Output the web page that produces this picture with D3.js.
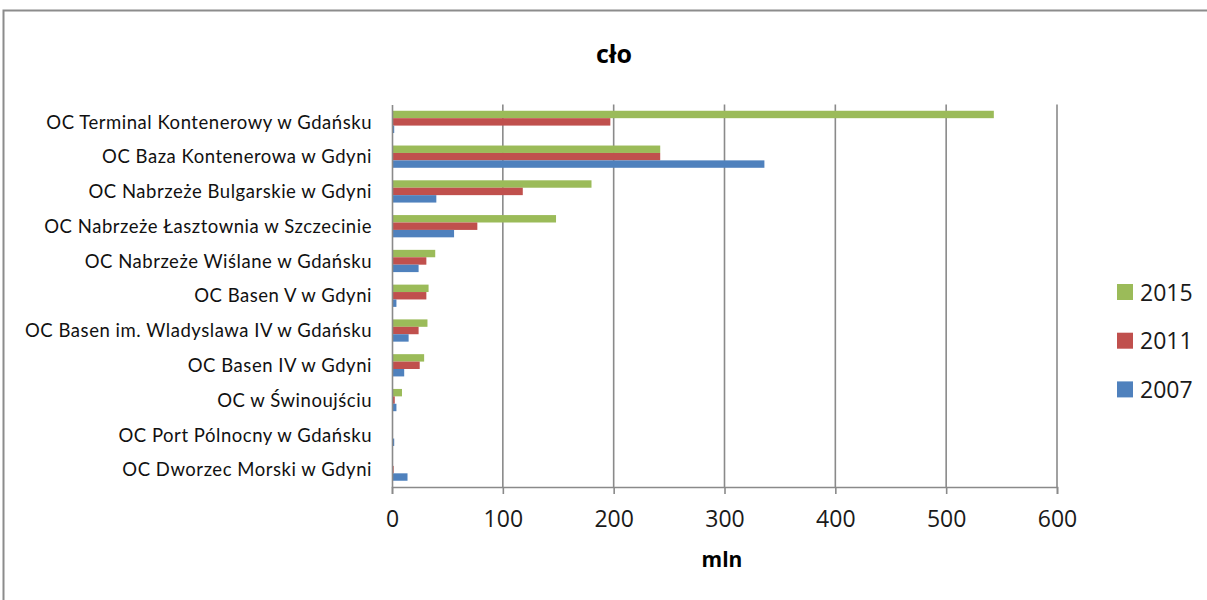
<!DOCTYPE html>
<html><head><meta charset="utf-8">
<script src="https://cdn.jsdelivr.net/npm/d3@7"></script>
<style>body{margin:0;background:#fff}svg{display:block}</style>
</head><body>
<svg id="c" width="1207" height="600"></svg>
<script>
const categories = [
  "OC Terminal Kontenerowy w Gdańsku",
  "OC Baza Kontenerowa w Gdyni",
  "OC Nabrzeże Bulgarskie w Gdyni",
  "OC Nabrzeże Łasztownia w Szczecinie",
  "OC Nabrzeże Wiślane w Gdańsku",
  "OC Basen V w Gdyni",
  "OC Basen im. Wladyslawa IV w Gdańsku",
  "OC Basen IV w Gdyni",
  "OC w Świnoujściu",
  "OC Port Pólnocny w Gdańsku",
  "OC Dworzec Morski w Gdyni"
];
const seriesNames = ["2015", "2011", "2007"];
const v2015 = [543, 242, 180, 148, 39, 33, 32, 29, 9, 0, 0];
const v2011 = [197, 242, 118, 77, 31, 31, 24, 25, 2.5, 0, 1.5];
const v2007 = [2, 336, 40, 56, 24, 4, 15, 11, 4, 2, 14];
const xTicks = [0, 100, 200, 300, 400, 500, 600];
const colors = ["#9BBB59", "#C0504D", "#4F81BD"];
const title = "cło";
const xTitle = "mln";

const seriesVals = [v2015, v2011, v2007];
const svg = d3.select("#c");
const FONT = "'Open Sans', sans-serif";
const LFONT = "Lato, 'Open Sans', sans-serif";

// outer border
svg.append("rect").attr("x", 3.5).attr("y", 10.5).attr("width", 1300).attr("height", 700)
  .attr("fill", "none").attr("stroke", "#8c8c8c").attr("stroke-width", 2);

const x = d3.scaleLinear().domain([0, 600]).range([392, 1057]);
const y = d3.scaleBand().domain(categories).range([104.5, 487]).paddingInner(0.36).paddingOuter(0.18);
const sub = d3.scaleBand().domain(seriesNames).range([0, y.bandwidth()]);

// gridlines
svg.append("g").selectAll("line").data(xTicks.slice(1)).join("line")
  .attr("x1", d => x(d)).attr("x2", d => x(d)).attr("y1", 104.5).attr("y2", 487)
  .attr("stroke", "#8a8a8a").attr("stroke-width", 1.6);

// bars
seriesNames.forEach((s, si) => {
  svg.append("g").selectAll("rect").data(categories).join("rect")
    .attr("x", x(0))
    .attr("y", c => y(c) + sub(s))
    .attr("width", (c, i) => Math.max(0, x(seriesVals[si][i]) - x(0)))
    .attr("height", sub.bandwidth())
    .attr("fill", colors[si]);
});

// x axis
const xAxis = d3.axisBottom(x).tickValues(xTicks).tickSize(7).tickPadding(10).tickFormat(d3.format("d"));
const gx = svg.append("g").attr("transform", "translate(0,487)").call(xAxis);
gx.select(".domain").attr("stroke", "#8a8a8a").attr("stroke-width", 1.6);
gx.selectAll(".tick line").attr("stroke", "#8a8a8a").attr("stroke-width", 1.6);
gx.selectAll(".tick text").attr("font-family", FONT).attr("font-size", 23).attr("fill", "#1a1a1a")
  .attr("dy", null).attr("y", 40);

// y axis
const yAxis = d3.axisLeft(y).tickSize(0).tickPadding(20);
const gy = svg.append("g").attr("transform", "translate(392,0)").call(yAxis);
gy.select(".domain").attr("stroke", "#8a8a8a").attr("stroke-width", 1.6);
gy.selectAll(".tick text").attr("font-family", LFONT).attr("fill", "#111").attr("font-size", 18.5)
  .attr("x", -20).attr("dy", "0.36em");
// letter spacing so the widest label matches the reference width
let maxW = 0, maxN = 1;
gy.selectAll(".tick text").each(function(){
  const w = this.getComputedTextLength();
  if (w > maxW) { maxW = w; maxN = this.textContent.length; }
});
const ls = Math.max(0, (347 - maxW) / maxN);
gy.selectAll(".tick text").attr("letter-spacing", ls);

// title
svg.append("text").attr("x", 614).attr("y", 63).attr("text-anchor", "middle")
  .attr("font-family", FONT).attr("font-weight", "bold").attr("font-size", 25).attr("fill", "#000").text(title);
// x title
svg.append("text").attr("x", 722).attr("y", 567).attr("text-anchor", "middle")
  .attr("font-family", FONT).attr("font-weight", "bold").attr("font-size", 21).attr("fill", "#000").text(xTitle);

// legend
const lg = svg.append("g").selectAll("g").data(seriesNames).join("g")
  .attr("transform", (d, i) => `translate(1117,${284 + i * 48.7})`);
lg.append("rect").attr("width", 16).attr("height", 16).attr("fill", (d, i) => colors[i]);
lg.append("text").attr("x", 23).attr("y", 16.5).attr("font-family", FONT).attr("font-size", 23)
  .attr("fill", "#1a1a1a").text(d => d);
</script>
</body></html>
